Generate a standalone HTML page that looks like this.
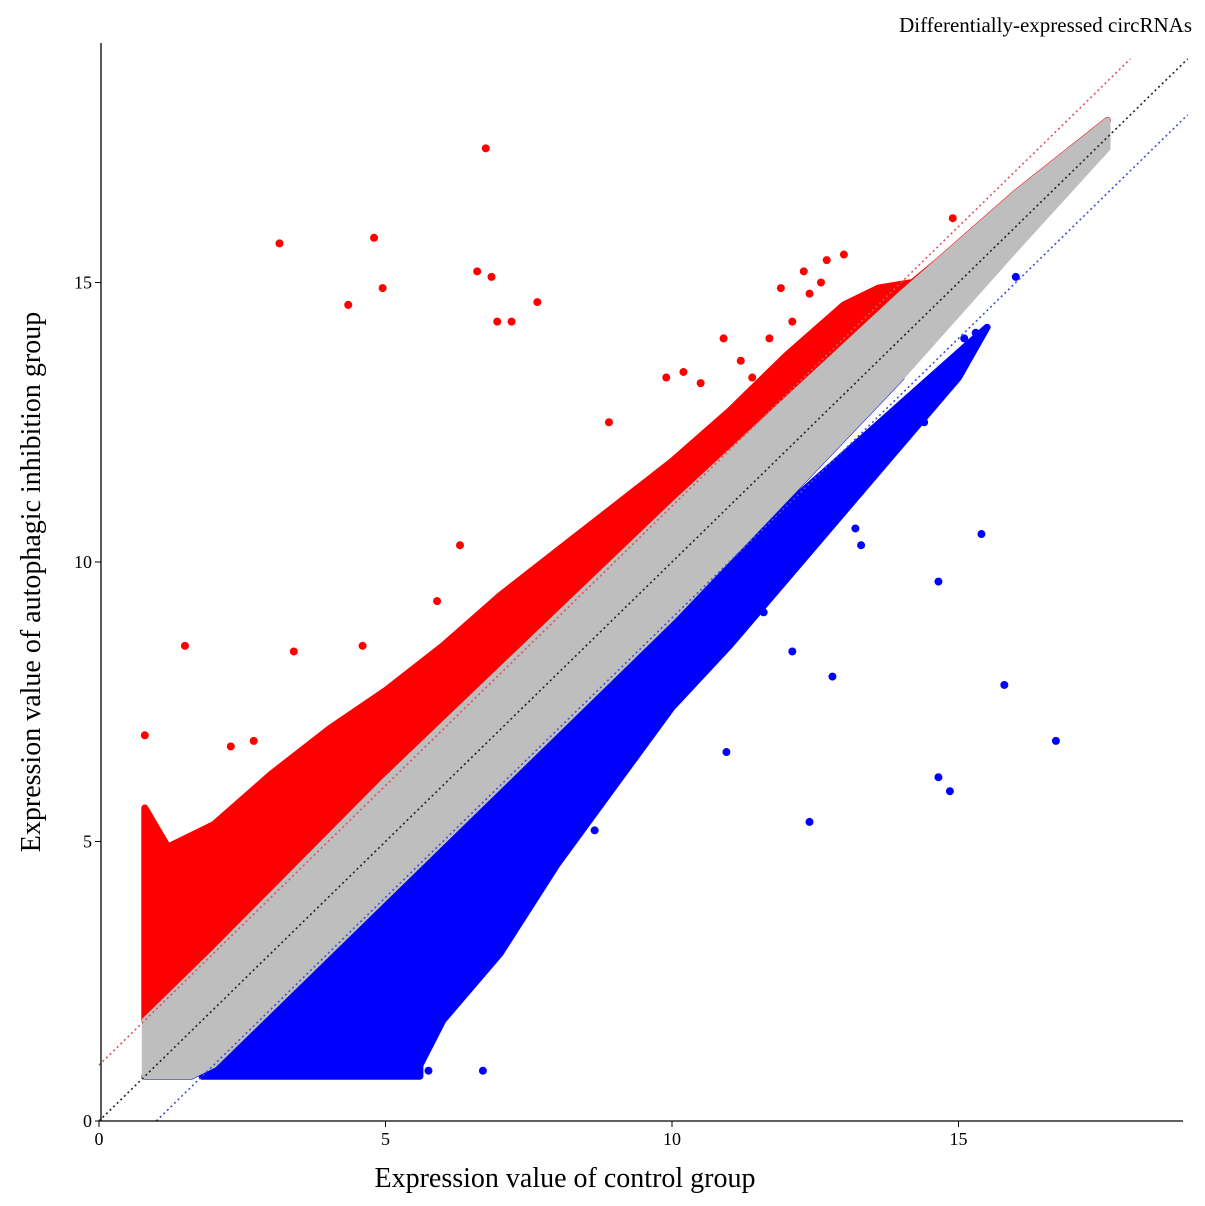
<!DOCTYPE html>
<html><head><meta charset="utf-8"><style>
html,body{margin:0;padding:0;background:#fff;}
svg{display:block;font-family:"Liberation Serif",serif;}
</style></head><body>
<svg id="chart" width="1205" height="1206" viewBox="0 0 1205 1206"></svg>
<script>
// ---- data ----
const xTicks = [0,5,10,15];
const yTicks = [0,5,10,15];
const grayUpper = [[0.8,1.8],[2,3.0],[5,6.1],[10,11.0],[14,14.8],[16,16.6],[17.6,17.9]];
const grayLower = [[17.6,17.4],[16,15.6],[14,13.3],[10,9.0],[5,4.0],[2,1.0],[1.6,0.8],[0.8,0.8]];
const redOuter = [[0.8,1.8],[0.8,5.6],[1.2,4.9],[2,5.3],[3,6.2],[4,7.0],[5,7.7],[6,8.5],[7,9.4],[8,10.2],[9,11.0],[10,11.8],[11,12.7],[12,13.7],[13,14.6],[13.6,14.9],[14.2,15.0]];
const blueOuter = [[15.5,14.2],[15,13.3],[14,12.1],[13,10.9],[12,9.7],[11,8.5],[10,7.4],[9,6.0],[8,4.6],[7,3.0],[6,1.8],[5.6,1.0],[5.6,0.8],[1.8,0.8]];
const redX = [6.75,3.15,4.8,4.95,4.35,6.6,6.85,6.95,7.2,7.65,1.5,14.9,0.8,3.4,13.0,12.7,12.3,11.7,10.2,11.4,5.9,6.3,4.6,2.3,2.7,9.9,8.9,10.5,11.2,12.1,12.4,12.6,11.9,10.9];
const redY = [17.4,15.7,15.8,14.9,14.6,15.2,15.1,14.3,14.3,14.65,8.5,16.15,6.9,8.4,15.5,15.4,15.2,14.0,13.4,13.3,9.3,10.3,8.5,6.7,6.8,13.3,12.5,13.2,13.6,14.3,14.8,15.0,14.9,14.0];
const blueX = [13.2,15.4,14.65,12.8,15.8,10.95,16.7,12.4,14.65,14.85,8.65,6.7,5.75,16.0,11.6,12.1,14.4,13.3,8.2,7.8,15.1,15.3];
const blueY = [10.6,10.5,9.65,7.95,7.8,6.6,6.8,5.35,6.15,5.9,5.2,0.9,0.9,15.1,9.1,8.4,12.5,10.3,5.4,5.3,14.0,14.1];
// ---- axes ----
const X0=99, XS=57.3, Y0=1121, YS=55.9;
const sx=v=>X0+v*XS, sy=v=>Y0-v*YS;
const svg=document.getElementById('chart'), NS='http://www.w3.org/2000/svg';
function mk(t,a,p){const e=document.createElementNS(NS,t);for(const k in a)e.setAttribute(k,a[k]);(p||svg).appendChild(e);return e;}
const pts=arr=>arr.map(p=>sx(p[0]).toFixed(1)+','+sy(p[1]).toFixed(1)).join(' ');

let e;
e=mk('polygon',{points:pts(redOuter.concat(grayUpper.slice().reverse())),fill:'#f00',stroke:'#f00','stroke-width':7,'stroke-linejoin':'round'});


e=mk('polygon',{points:pts(blueOuter.concat(grayLower.slice(2))),fill:'#00f',stroke:'#00f','stroke-width':7,'stroke-linejoin':'round'});


e=mk('polygon',{points:pts(grayUpper.concat(grayLower)),fill:'#bebebe',stroke:'#bebebe','stroke-width':6,'stroke-linejoin':'round'});



redX.forEach((v,i)=>{const c=mk('circle',{cx:sx(v),cy:sy(redY[i]),r:4,fill:'#f00'});

});
blueX.forEach((v,i)=>{const c=mk('circle',{cx:sx(v),cy:sy(blueY[i]),r:4,fill:'#00f'});

});

// diagonal reference lines
[[0,0,19.0,'#222','diagonal-line'],[0,1,18.0,'#e05060','upper-threshold-line'],[1,0,19.0,'#4050d0','lower-threshold-line']].forEach(d=>{
 const x1=d[0],y1=d[1],x2=d[2],y2=d[2]-d[0]+d[1];
 const l=mk('line',{x1:sx(x1),y1:sy(y1),x2:sx(x2),y2:sy(y2),stroke:d[3],'stroke-width':1.6,'stroke-dasharray':'2,3'});
 
 
});

// axes
e=mk('line',{x1:101,y1:43,x2:101,y2:1121,stroke:'#000','stroke-width':1.3});


e=mk('line',{x1:101,y1:1121,x2:1183,y2:1121,stroke:'#000','stroke-width':1.3});


xTicks.forEach(v=>{mk('line',{x1:sx(v),y1:1121,x2:sx(v),y2:1127,stroke:'#000'});
 const t=mk('text',{x:sx(v),y:1145,'font-size':18,'text-anchor':'middle'});t.textContent=v;
 
 });
yTicks.forEach(v=>{mk('line',{x1:95,y1:sy(v),x2:101,y2:sy(v),stroke:'#000'});
 const t=mk('text',{x:92,y:sy(v)+6,'font-size':18,'text-anchor':'end'});t.textContent=v;
 
 });

e=mk('text',{x:565,y:1187,'font-size':28,'text-anchor':'middle'});e.textContent='Expression value of control group';


e=mk('text',{x:0,y:0,'font-size':28,'text-anchor':'middle',transform:'translate(40,582) rotate(-90)'});e.textContent='Expression value of autophagic inhibition group';


e=mk('text',{x:1192,y:32,'font-size':21,'text-anchor':'end'});e.textContent='Differentially-expressed circRNAs';


</script>
</body></html>
